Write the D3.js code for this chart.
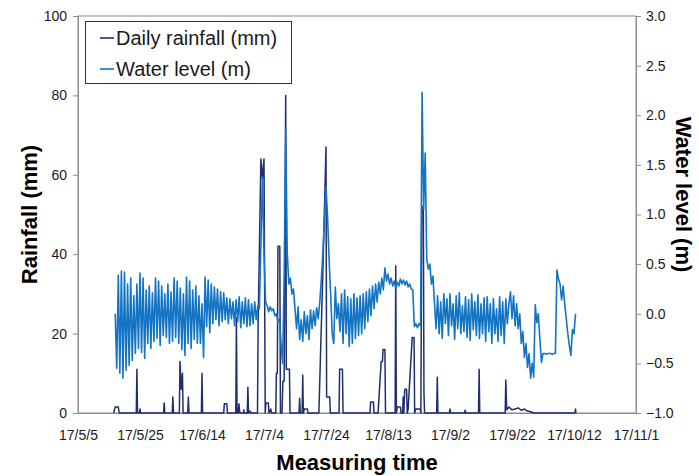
<!DOCTYPE html>
<html><head><meta charset="utf-8">
<script src="https://cdn.jsdelivr.net/npm/d3@7"></script>
<style>
html,body{margin:0;padding:0;background:#fff;}
svg{display:block;font-family:"Liberation Sans",Arial,sans-serif;}
</style></head>
<body><svg id="c" width="699" height="476"></svg>
<script>
// ---------- data ----------
const xTickLabels = ["17/5/5","17/5/25","17/6/14","17/7/4","17/7/24","17/8/13","17/9/2","17/9/22","17/10/12","17/11/1"];
const rainTicks = [0,20,40,60,80,100];
const levelTicks = [-1.0,-0.5,0.0,0.5,1.0,1.5,2.0,2.5,3.0];
const seriesNames = ["Daily rainfall (mm)","Water level (m)"];
const originLabel = "17/5/5";      // day 0 of the day offsets below

// daily rainfall (mm): [day offset from 17/5/5, mm]
const rainfall = [
[11.5,0],[12,1.5],[13,1.5],[13.3,0],
[18.8,0],[19,11],[19.2,0],[19.8,0],[20,1],[20.2,0],
[27.6,0],[27.8,2.5],[28,0],
[30.4,0],[30.6,4],[30.8,0],
[32.7,0],[32.9,13],[33.3,6],[33.7,10],[33.9,0],
[35.4,0],[35.6,4],[35.8,0],
[39.8,0],[40,10],[40.2,0],
[47,0],[47.2,2.3],[48,2.3],[48.2,0],
[50.9,0],[51.1,24],[51.3,0],[51.7,0],[51.9,2.3],[52.2,0],[53.4,0],[53.5,0.8],[53.6,0],
[54.6,0],[54.8,6.5],[55,0],[55.5,0.5],[55.7,0],
[57.9,0],[58.1,22],[59,64],[59.5,59],[60,64],[60.4,0],[60.6,2.5],[61.4,2.5],[61.6,0],[62.2,1],[62.4,0],
[63.8,0],[64.0,10],[64.3,10],[64.5,42],[65.1,42],[65.3,0],
[65.8,0],[66.1,8],[66.5,8],[67.0,80],[67.2,11],[68.2,11],[68.4,0],
[71.3,0],[71.5,3.7],[71.7,0],[72.3,0],[72.5,9.6],[72.7,0],[73,1],[74,1],[74.2,0],
[77.7,0],[79,36],[80,67],[80.2,4],[81.2,4],[81.4,0],
[84.2,0],[84.4,11],[85.3,11],[85.5,0],
[94.2,0],[94.4,2.8],[95.3,2.8],[95.5,0],
[96.8,0],[97.8,13],[98.2,13],[98.4,16],[99.0,16],[99.2,0],
[102.3,0],[102.5,37],[102.7,0],[103,1.5],[104,1.5],[104.2,0],
[104.7,0],[104.9,4],[105.1,0],[105.4,6],[106,6],[106.2,0],[106.5,1],[107.8,19],[108.4,19],[108.6,0],[109,1],[110.4,1],
[110.6,0],[110.9,52],[111.4,52],[111.6,5],[111.8,0],
[115.7,0],[115.9,9],[116.1,0],
[119.8,0],[120,1],[120.2,0],[124.7,0],[124.9,0.7],[125.1,0],
[129.2,0],[129.4,11],[129.6,0],
[137.8,0],[138,8.3],[138.3,0.8],[139,1.5],[140,0.8],[141,1],[142,1.3],[143,0.7],[144,1],[145,0.5],[146,0.3],[147,0],
[160.3,0],[160.5,1],[160.6,0]
];

// water level (m), sampled every half day from day 12
const levelStartDay = 12;
const levelStepDays = 0.5;
const waterLevel = [
0.0,-0.55,0.39,-0.6,0.43,-0.65,0.42,-0.57,0.3,-0.52,0.36,-0.47,0.18,-0.4,0.3,-0.35,0.41,
-0.39,0.36,-0.45,0.24,-0.3,0.28,-0.35,0.21,-0.28,0.36,-0.25,0.33,-0.32,0.28,-0.22,0.2,-0.24,0.3,-0.3,0.22,
-0.28,0.36,-0.24,0.33,-0.3,0.26,-0.36,0.2,-0.42,0.37,-0.3,0.33,-0.35,0.24,-0.26,0.28,-0.3,0.18,-0.3,0.1,
-0.44,0.37,-0.13,0.34,-0.19,0.3,-0.1,0.27,-0.06,0.25,-0.12,0.22,-0.08,0.21,-0.06,0.16,
-0.1,0.15,-0.05,0.12,-0.12,0.14,-0.08,0.17,-0.14,0.12,-0.1,0.16,-0.13,0.14,-0.12,0.1,-0.1,0.12,-0.06,0.08,
0.05,0.7,1.38,0.6,0.12,
0.08,0.02,0.07,0.03,0.05,-0.02,0.0,-0.08,-0.05,-0.3,-0.5,0.35,1.85,0.62,0.3,0.36,0.2,0.25,
0.05,-0.15,0.07,-0.26,-0.06,-0.28,0.02,-0.2,-0.02,-0.26,0.04,-0.15,0.03,-0.12,0.06,-0.05,0.12,
0.35,0.62,0.95,1.28,0.98,0.55,0.2,-0.2,-0.3,0.27,
-0.05,0.1,-0.18,0.2,-0.3,0.24,-0.2,0.17,-0.33,0.15,-0.3,0.2,-0.25,0.16,-0.22,0.18,
-0.2,0.2,-0.15,0.22,-0.08,0.25,-0.02,0.28,0.05,0.3,0.12,0.32,0.2,0.36,0.24,0.46,
0.33,0.4,0.3,0.36,0.28,0.33,0.26,0.32,0.28,0.35,0.3,0.34,0.29,0.33,0.27,0.3,0.25,0.24,
-0.13,-0.1,-0.14,-0.1,-0.12,
2.23,1.05,1.62,0.55,0.45,0.5,0.3,0.38,0.1,
-0.15,0.18,-0.2,0.12,-0.25,0.2,-0.1,0.15,-0.22,0.2,-0.12,0.1,-0.26,0.18,-0.15,0.21,-0.2,0.08,-0.18,0.17,-0.24,0.14,-0.27,0.2,-0.16,0.12,-0.22,0.19,-0.25,0.1,-0.2,0.16,
-0.28,0.17,-0.18,0.1,-0.3,0.15,-0.2,0.05,-0.28,0.17,-0.22,0.12,-0.3,0.15,-0.1,0.1,0.22,
-0.05,0.18,-0.12,0.1,-0.15,0.0,-0.3,-0.18,-0.44,-0.3,-0.54,-0.4,-0.65,-0.5,-0.64,
0.09,-0.09,0.0,-0.26,-0.49,
-0.4,-0.4,-0.41,-0.4,-0.4,-0.4,-0.41,-0.4,-0.4,
0.44,0.35,0.3,0.14,0.28,0.1,-0.05,-0.2,-0.32,-0.42,-0.16,-0.2,0.0
];

// ---------- helpers ----------
const parseLabel = s => { const [y,m,d] = s.split("/").map(Number); return new Date(2000+y, m-1, d); };
const origin = parseLabel(originLabel);
const dayToDate = d => new Date(origin.getTime() + d*864e5);

// ---------- layout ----------
const svg = d3.select("#c");
const L = 78, R = 636, T = 16, B = 413;
const axisColor = "#8c8c8c";
const rainColor = "#1f2f6e";
const levelColor = "#1474c4";

const tickDates = xTickLabels.map(parseLabel);
const x = d3.scaleTime().domain([tickDates[0], tickDates[tickDates.length-1]]).range([L, R]);
const yL = d3.scaleLinear().domain([0,100]).range([B, T]);
const yR = d3.scaleLinear().domain([-1,3]).range([B, T]);

// plot border
svg.append("rect").attr("x",L).attr("y",T).attr("width",R-L).attr("height",B-T)
  .attr("fill","none").attr("stroke",axisColor).attr("stroke-width",1);

// left axis
const gl = svg.append("g").attr("transform",`translate(${L},0)`)
  .call(d3.axisLeft(yL).tickValues(rainTicks).tickSize(5).tickPadding(6).tickFormat(d3.format("d")));
// right axis
const gr = svg.append("g").attr("transform",`translate(${R},0)`)
  .call(d3.axisRight(yR).tickValues(levelTicks).tickSize(5).tickPadding(5).tickFormat(d3.format(".1f")));
// bottom axis
const gb = svg.append("g").attr("transform",`translate(0,${B})`)
  .call(d3.axisBottom(x).tickValues(tickDates).tickSize(0).tickPadding(17)
    .tickFormat((d,i)=>xTickLabels[i]));
[gl,gr,gb].forEach(g=>{
  g.selectAll(".domain").attr("stroke",axisColor);
  g.selectAll(".tick line").attr("stroke",axisColor);
  g.selectAll(".tick text").attr("fill","#1a1a1a").style("font-size","14px")
    .style("font-family",'"Liberation Sans",Arial,sans-serif');
});

// series
const rainLine = d3.line().x(d=>x(dayToDate(d[0]))).y(d=>yL(d[1]));
svg.append("path").datum(rainfall).attr("d",rainLine)
  .attr("fill","none").attr("stroke",rainColor).attr("stroke-width",1.5).attr("stroke-linejoin","round");

const levelLine = d3.line()
  .x((d,i)=>x(dayToDate(levelStartDay + i*levelStepDays))).y(d=>yR(d));
svg.append("path").datum(waterLevel).attr("d",levelLine)
  .attr("fill","none").attr("stroke",levelColor).attr("stroke-width",1.6).attr("stroke-linejoin","round");

// titles
svg.append("text").attr("transform",`translate(37,${(T+B)/2}) rotate(-90)`)
  .attr("text-anchor","middle").style("font-size","22px").style("font-weight","bold").text("Rainfall (mm)");
svg.append("text").attr("transform",`translate(676,${(T+B)/2 - 20}) rotate(90)`)
  .attr("text-anchor","middle").style("font-size","22px").style("font-weight","bold").text("Water level (m)");
svg.append("text").attr("x",(L+R)/2).attr("y",470)
  .attr("text-anchor","middle").style("font-size","22px").style("font-weight","bold").text("Measuring time");

// legend
const lg = svg.append("g");
lg.append("rect").attr("x",85.5).attr("y",21.5).attr("width",206).attr("height",62)
  .attr("fill","#fff").attr("stroke","#333").attr("stroke-width",1);
[rainColor, levelColor].forEach((c,i)=>{
  const yy = 38 + i*31;
  lg.append("line").attr("x1",100).attr("x2",114).attr("y1",yy).attr("y2",yy)
    .attr("stroke",c).attr("stroke-width",1.6);
  lg.append("text").attr("x",116).attr("y",yy).attr("dy","0.35em")
    .style("font-size","20px").attr("fill","#1a1a1a").text(seriesNames[i]);
});
</script>
</body></html>
